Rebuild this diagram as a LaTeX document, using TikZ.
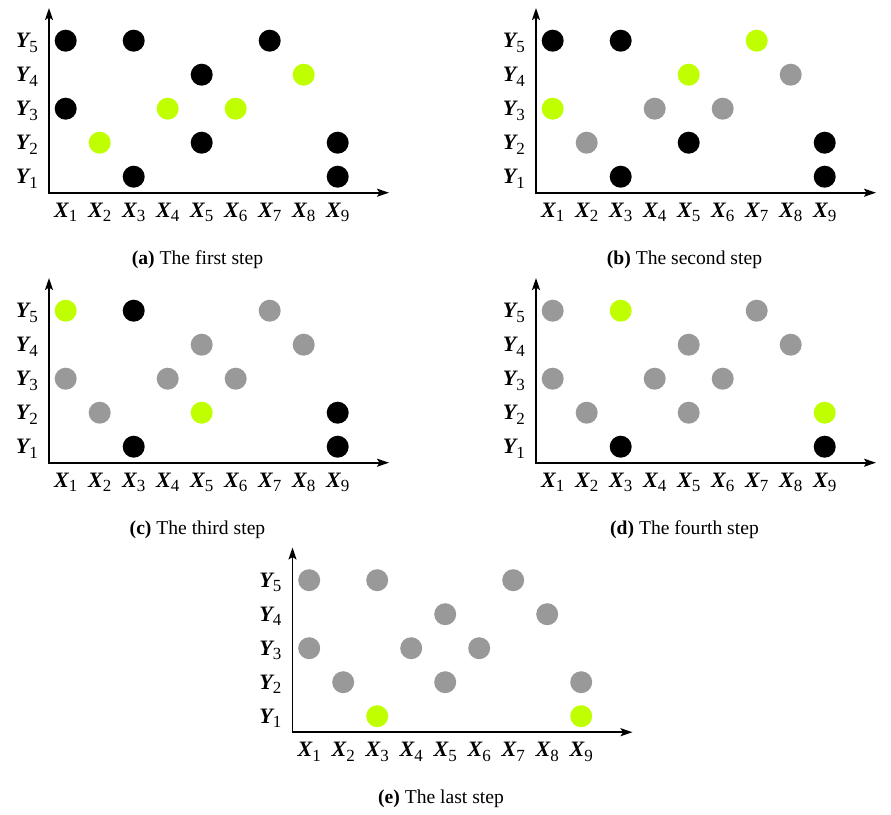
\documentclass[tikz,border=0pt]{standalone}
\usepackage{fontspec}
\setmainfont{Liberation Serif}
\usetikzlibrary{arrows.meta}
\definecolor{hl}{RGB}{192,255,0}
\definecolor{dn}{RGB}{153,153,153}
\newcommand{\axlab}[2]{{\bfseries\itshape #1}\raisebox{-4.5pt}{\fontsize{17}{17}\selectfont #2}}
\newcommand{\mypanel}[6]{%
  \begin{scope}[shift={(#2,#3)}]
    \coordinate (#1-o) at (49,192.7);
    \coordinate (#1-xe) at (389,192.7);
    \coordinate (#1-ye) at (49,8);
    \draw[axisline] (#1-ye) -- (#1-o) -- (#1-xe);
    \foreach \j in {1,...,5}{
      \node[lab,anchor=base east] (#1-y\j) at (38,{176.7-34*(\j-1)+7}) {\axlab{Y}{\j}};
    }
    \foreach \i in {1,...,9}{
      \node[lab,anchor=base] (#1-x\i) at ({65.7+34*(\i-1)},217.3) {\axlab{X}{\i}};
    }
    \foreach \i/\j/\c in {#6}{
      \node[dot,fill=\c] (#1-p\i-\j) at ({65.7+34*(\i-1)},{176.7-34*(\j-1)}) {};
    }
    \node[captext,anchor=base] (#1-cap) at (197.5,264) {\textbf{(#4)} #5};
  \end{scope}}
\begin{document}
\begin{tikzpicture}[x=1pt,y=-1pt,
  dot/.style={circle,minimum size=22pt,inner sep=0pt,draw=none},
  lab/.style={inner sep=0pt,font=\fontsize{22}{22}\selectfont},
  captext/.style={inner sep=0pt,font=\fontsize{19.6}{21}\selectfont},
  axisline/.style={line width=1.8pt,{Stealth[length=12pt,width=8pt,inset=2.5pt]}-{Stealth[length=12pt,width=8pt,inset=2.5pt]}}]
\useasboundingbox (0,0) rectangle (891,814);
\mypanel{a}{0}{0}{a}{The first step}{1/5/black,3/5/black,7/5/black,5/4/black,8/4/hl,1/3/black,4/3/hl,6/3/hl,2/2/hl,5/2/black,9/2/black,3/1/black,9/1/black}
\mypanel{b}{487}{0}{b}{The second step}{1/5/black,3/5/black,7/5/hl,5/4/hl,8/4/dn,1/3/hl,4/3/dn,6/3/dn,2/2/dn,5/2/black,9/2/black,3/1/black,9/1/black}
\mypanel{c}{0}{270}{c}{The third step}{1/5/hl,3/5/black,7/5/dn,5/4/dn,8/4/dn,1/3/dn,4/3/dn,6/3/dn,2/2/dn,5/2/hl,9/2/black,3/1/black,9/1/black}
\mypanel{d}{487}{270}{d}{The fourth step}{1/5/dn,3/5/hl,7/5/dn,5/4/dn,8/4/dn,1/3/dn,4/3/dn,6/3/dn,2/2/dn,5/2/dn,9/2/hl,3/1/black,9/1/black}
\mypanel{e}{243.5}{539.5}{e}{The last step}{1/5/dn,3/5/dn,7/5/dn,5/4/dn,8/4/dn,1/3/dn,4/3/dn,6/3/dn,2/2/dn,5/2/dn,9/2/dn,3/1/hl,9/1/hl}
\end{tikzpicture}
\end{document}
